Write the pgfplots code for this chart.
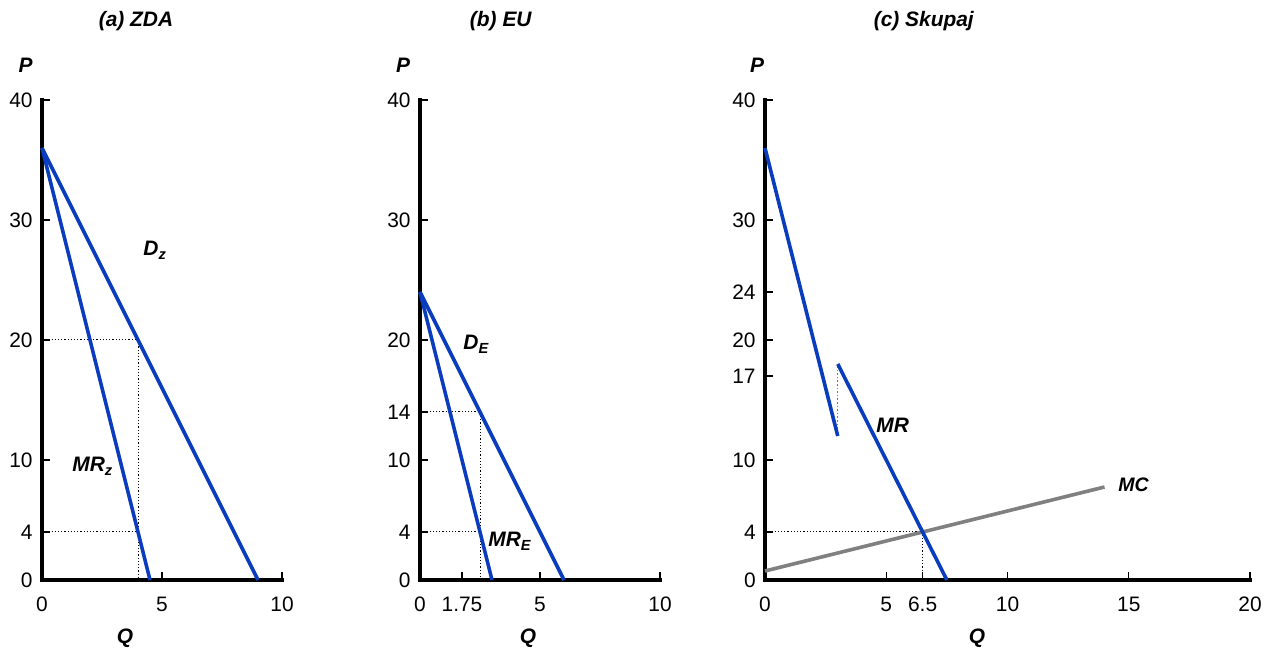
\documentclass[border=0pt]{standalone}
\usepackage{pgfplots}
\pgfplotsset{compat=1.18}
\usepackage{fontspec}
\setmainfont{Liberation Sans}
\definecolor{lblue}{RGB}{10,60,190}
\definecolor{mcgray}{RGB}{128,128,128}
\newcommand{\lab}[2]{\textbf{\textit{#1}}\textsubscript{\textbf{\textit{#2}}}}
\pgfplotsset{
  panel/.style={
    scale only axis, anchor=south west, height=240bp,
    xmin=0, ymin=0, ymax=40, clip=false,
    axis x line=bottom, axis y line=left,
    axis line style={-, line width=2bp, line cap=rect},
    tick align=inside, major tick length=4bp,
    tick style={black, line width=0.6bp},
    /pgf/number format/assume math mode=true,
    ticklabel style={font=\fontsize{10.5}{12}\selectfont},
    yticklabel style={xshift=-1bp},
    xticklabel style={yshift=-5bp},
  },
  bl/.style={lblue, line width=1.8bp},
  dt/.style={black, line width=0.5bp, dash pattern=on 0.6bp off 1bp},
}
\begin{document}
\fontsize{10.5}{12}\selectfont
\begin{tikzpicture}
\useasboundingbox (0,0) rectangle (633.5bp,325bp);
% Panel a
\begin{axis}[panel, at={(21bp,35bp)}, width=120bp, xmax=10,
  xtick={0,5,10}, xticklabels={0,5,10}, ytick={0,4,10,20,30,40}]
\addplot[dt] coordinates {(0,20) (4,20) (4,0)};
\addplot[dt] coordinates {(0,4) (4,4)};
\addplot[bl] coordinates {(0,36) (9,0)};
\addplot[bl] coordinates {(0,36) (4.5,0)};
\end{axis}
% Panel b
\begin{axis}[panel, at={(210bp,35bp)}, width=120bp, xmax=10,
  xtick={0,1.75,5,10}, xticklabels={0,1.75,5,10}, ytick={0,4,10,14,20,30,40}]
\addplot[dt] coordinates {(0,14) (2.5,14) (2.5,0)};
\addplot[dt] coordinates {(0,4) (2.5,4)};
\addplot[bl] coordinates {(0,24) (6,0)};
\addplot[bl] coordinates {(0,24) (3,0)};
\end{axis}
% Panel c
\begin{axis}[panel, at={(382.5bp,35bp)}, width=242.5bp, xmax=20,
  xtick={0,5,6.5,10,15,20}, xticklabels={0,5,6.5,10,15,20}, ytick={0,4,10,17,20,24,30,40}]
\addplot[dt] coordinates {(0,4) (6.5,4) (6.5,0)};
\addplot[mcgray, line width=1.8bp] coordinates {(0,0.75) (14,7.75)};
\addplot[lblue!70, line width=0.6bp, dash pattern=on 0.8bp off 1bp] coordinates {(3,12) (3,18)};
\addplot[bl] coordinates {(0,36) (3,12)};
\addplot[bl] coordinates {(3,18) (7.5,0)};
\end{axis}
% titles
\node[anchor=base] at (68bp,311.5bp) {\textbf{\textit{(a) ZDA}}};
\node[anchor=base] at (250.5bp,311.5bp) {\textbf{\textit{(b) EU}}};
\node[anchor=base] at (462bp,311.5bp) {\textbf{\textit{(c) Skupaj}}};
% axis labels
\foreach \x in {12.75bp,201.5bp,378.5bp} \node[anchor=base] at (\x,288.5bp) {\textbf{\textit{P}}};
\foreach \x in {62.5bp,264bp,488.5bp} \node[anchor=base] at (\x,3.5bp) {\textbf{\textit{Q}}};
% curve labels
\node[anchor=base west, inner sep=0pt] at (71.5bp,197bp) {\lab{D}{z}};
\node[anchor=base west, inner sep=0pt] at (36bp,89bp) {\lab{MR}{z}};
\node[anchor=base west, inner sep=0pt] at (231.5bp,150bp) {\lab{D}{E}};
\node[anchor=base west, inner sep=0pt] at (244bp,51.5bp) {\lab{MR}{E}};
\node[anchor=base west, inner sep=0pt] at (438bp,108.5bp) {\textbf{\textit{MR}}};
\node[anchor=base west, inner sep=0pt] at (559bp,79bp) {\fontsize{9.8}{11}\selectfont\textbf{\textit{MC}}};
\end{tikzpicture}
\end{document}
